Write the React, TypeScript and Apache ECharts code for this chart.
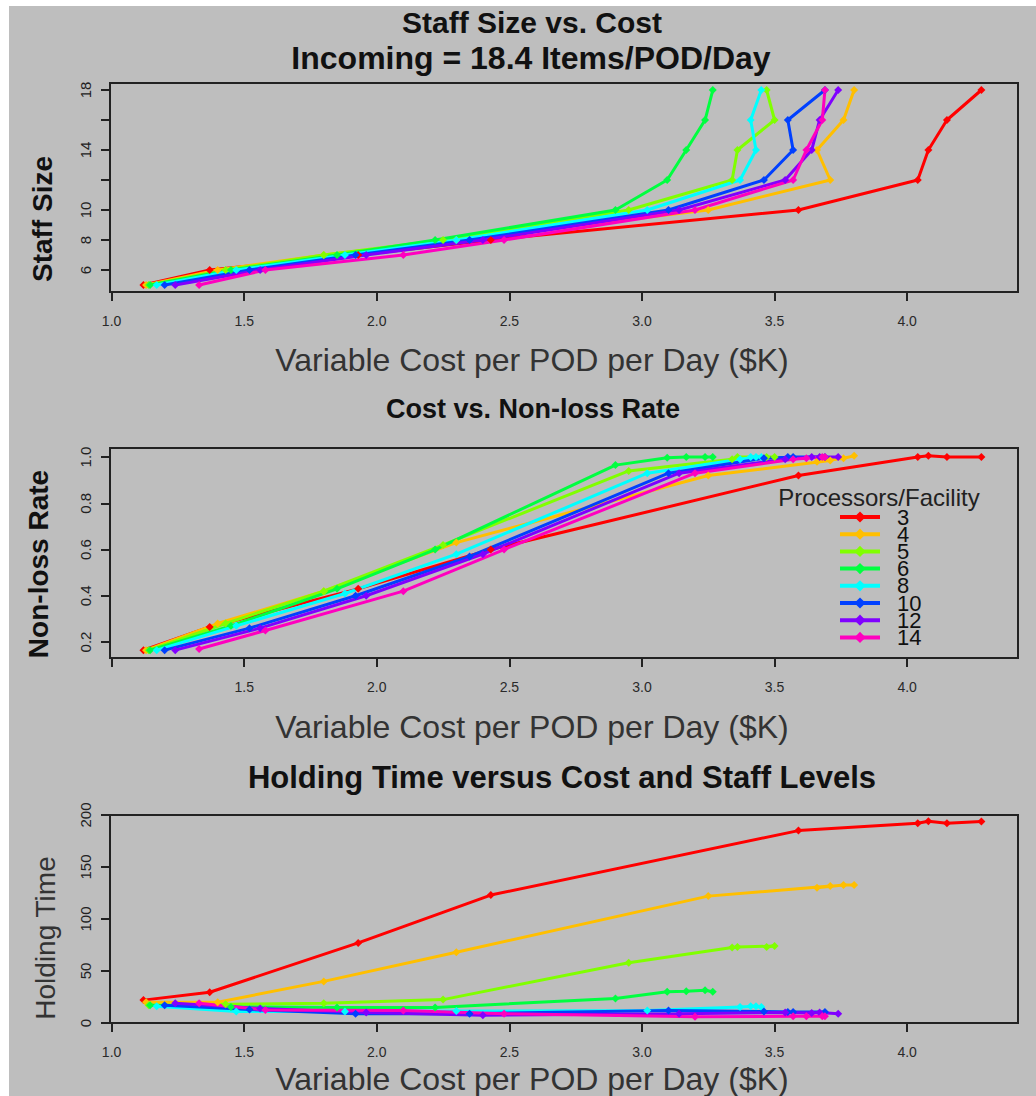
import React, { useEffect, useRef } from "react";
import * as echarts from "echarts";

// ---------- data ----------
const processors = ["3", "4", "5", "6", "8", "10", "12", "14"];
const staffLevels = [5, 6, 7, 8, 10, 12, 14, 16, 18];

const cost3 = [1.12, 1.37, 1.93, 2.43, 3.59, 4.04, 4.08, 4.15, 4.28];
const cost4 = [1.13, 1.4, 1.8, 2.3, 3.25, 3.71, 3.66, 3.76, 3.8];
const cost5 = [1.14, 1.43, 1.8, 2.25, 2.95, 3.34, 3.36, 3.5, 3.47];
const cost6 = [1.145, 1.45, 1.85, 2.22, 2.9, 3.095, 3.167, 3.238, 3.267];
const cost8 = [1.17, 1.47, 1.88, 2.3, 3.02, 3.37, 3.43, 3.41, 3.45];
const cost10 = [1.2, 1.52, 1.92, 2.35, 3.1, 3.46, 3.57, 3.55, 3.69];
const cost12 = [1.24, 1.56, 1.96, 2.4, 3.14, 3.54, 3.64, 3.67, 3.74];
const cost14 = [1.33, 1.58, 2.1, 2.48, 3.2, 3.57, 3.62, 3.68, 3.69];

const nonLoss3 = [0.165, 0.265, 0.43, 0.6, 0.92, 1.0, 1.005, 1.0, 1.0];
const nonLoss4 = [0.165, 0.28, 0.42, 0.63, 0.92, 0.985, 0.98, 0.995, 1.005];
const nonLoss5 = [0.165, 0.28, 0.42, 0.62, 0.94, 0.99, 1.0, 1.0, 1.0];
const nonLoss6 = [0.165, 0.27, 0.43, 0.6, 0.965, 0.997, 1.0, 1.0, 1.0];
const nonLoss8 = [0.165, 0.27, 0.41, 0.58, 0.93, 0.99, 1.0, 1.0, 1.0];
const nonLoss10 = [0.165, 0.26, 0.4, 0.57, 0.93, 0.995, 1.0, 1.0, 1.0];
const nonLoss12 = [0.165, 0.26, 0.4, 0.58, 0.93, 0.99, 1.0, 1.0, 1.0];
const nonLoss14 = [0.17, 0.25, 0.42, 0.6, 0.93, 0.99, 0.995, 1.0, 1.0];

const hold3 = [22, 29.6, 77, 123, 185, 192, 194, 192, 193.7];
const hold4 = [20, 20, 40, 68, 122, 131.7, 130, 132.6, 132.6];
const hold5 = [17, 18, 19, 22.5, 58, 72.5, 73, 74, 73];
const hold6 = [17, 15.5, 15, 15, 23.5, 30, 30.5, 31.5, 30];
const hold8 = [16, 11, 11, 11.5, 12, 15.5, 16, 16, 15.5];
const hold10 = [17, 13, 9, 9, 12, 11, 10.5, 10.5, 10.5];
const hold12 = [19, 14, 10, 7.5, 9, 10, 9.5, 10, 9];
const hold14 = [19, 12.5, 12, 9, 6, 6.5, 6.5, 6.5, 6.5];

const xTicks = [1.0, 1.5, 2.0, 2.5, 3.0, 3.5, 4.0];
const xLabelsMid = [1.5, 2.0, 2.5, 3.0, 3.5, 4.0];
const staffTicks = [6, 8, 10, 12, 14, 16, 18];
const staffLabels = [6, 8, 10, 14, 18];
const rateTicks = [0.2, 0.4, 0.6, 0.8, 1.0];
const holdTicks = [0, 50, 100, 150, 200];

const palette = ["#FF0000", "#FFBF00", "#80FF00", "#00FF40", "#00FFFF", "#0040FF", "#8000FF", "#FF00BF"];

const costs = [cost3, cost4, cost5, cost6, cost8, cost10, cost12, cost14];
const nonLoss = [nonLoss3, nonLoss4, nonLoss5, nonLoss6, nonLoss8, nonLoss10, nonLoss12, nonLoss14];
const holds = [hold3, hold4, hold5, hold6, hold8, hold10, hold12, hold14];

// ---------- layout (page coords minus offset) ----------
const OX = 9;
const OY = 6;
const FONT = "'Liberation Sans', Arial, sans-serif";
const INK = "#222";

const gridsPage = [
  { top: 83, bottom: 292 },
  { top: 448, bottom: 658 },
  { top: 815, bottom: 1023 },
];

function buildOption() {
  const grid = gridsPage.map((g) => ({
    left: 110 - OX,
    top: g.top - OY,
    width: 908,
    height: g.bottom - g.top,
    show: true,
    borderColor: INK,
    borderWidth: 2,
    backgroundColor: "transparent",
    containLabel: false,
  }));

  const xAxis = [0, 1, 2].map((i) => ({
    type: "value",
    gridIndex: i,
    min: 0.994,
    max: 4.418,
    axisLine: { show: false },
    splitLine: { show: false },
    axisTick: { show: true, length: 9, lineStyle: { color: INK, width: 2 }, customValues: xTicks },
    axisLabel: {
      customValues: i === 1 ? xLabelsMid : xTicks,
      formatter: (v: number) => v.toFixed(1),
      fontSize: 14,
      fontFamily: FONT,
      color: "#2a2a2a",
      margin: 22,
    },
  }));

  const yCommon = {
    type: "value",
    axisLine: { show: false },
    splitLine: { show: false },
  };
  const yTick = (vals: number[]) => ({ show: true, length: 9, lineStyle: { color: INK, width: 2 }, customValues: vals });
  const yLab = (vals: number[], fmt: (v: number) => string) => ({
    customValues: vals,
    formatter: fmt,
    rotate: 90,
    fontSize: 15,
    fontFamily: FONT,
    color: INK,
    margin: 17,
  });
  const yAxis = [
    { ...yCommon, gridIndex: 0, min: 4.533, max: 18.467, axisTick: yTick(staffTicks), axisLabel: yLab(staffLabels, (v) => String(v)) },
    { ...yCommon, gridIndex: 1, min: 0.131, max: 1.039, axisTick: yTick(rateTicks), axisLabel: yLab(rateTicks, (v) => v.toFixed(1)) },
    { ...yCommon, gridIndex: 2, min: 0, max: 200, axisTick: yTick(holdTicks), axisLabel: yLab(holdTicks, (v) => String(v)) },
  ];

  const series: any[] = [];
  for (let g = 0; g < 3; g++) {
    processors.forEach((p, j) => {
      const ys = g === 0 ? staffLevels : g === 1 ? nonLoss[j] : holds[j];
      series.push({
        type: "line",
        name: p,
        xAxisIndex: g,
        yAxisIndex: g,
        data: costs[j].map((c, k) => [c, ys[k]]),
        color: palette[j],
        lineStyle: { width: 3, color: palette[j] },
        itemStyle: { color: palette[j] },
        symbol: "diamond",
        symbolSize: 8,
        showSymbol: true,
        emphasis: { disabled: true },
      });
    });
  }

  const txt = (text: string, x: number, y: number, size: number, bold: boolean, rot = 0, color = "#111") => ({
    type: "text",
    x: x - OX,
    y: y - OY,
    rotation: rot,
    silent: true,
    style: {
      text,
      fill: color,
      font: `${bold ? "bold " : ""}${size}px ${FONT}`,
      align: "center",
      verticalAlign: "middle",
    },
  });

  const graphic = [
    txt("Staff Size vs. Cost", 532, 22, 30, true),
    txt("Incoming = 18.4 Items/POD/Day", 531, 58, 32, true),
    txt("Cost vs. Non-loss Rate", 533, 409, 27, true),
    txt("Holding Time versus Cost and Staff Levels", 562, 777, 31, true),
    txt("Variable Cost per POD per Day ($K)", 532, 360, 32, false, 0, "#333"),
    txt("Variable Cost per POD per Day ($K)", 532, 727, 32, false, 0, "#333"),
    txt("Variable Cost per POD per Day ($K)", 532, 1079, 32, false, 0, "#333"),
    txt("Staff Size", 42, 219, 28, true, Math.PI / 2),
    txt("Non-loss Rate", 38, 564, 28, true, Math.PI / 2),
    txt("Holding Time", 45, 938, 28, false, Math.PI / 2, "#333"),
    txt("Processors/Facility", 879, 497, 24, false, 0, "#222"),
  ];

  return {
    animation: false,
    backgroundColor: "#bebebe",
    grid,
    xAxis,
    yAxis,
    series,
    graphic,
    legend: {
      orient: "vertical",
      left: 833 - OX,
      top: 516 - OY - 15,
      itemWidth: 40,
      itemHeight: 14,
      itemGap: -4.8,
      selectedMode: false,
      data: processors,
      lineStyle: { width: 4 },
      textStyle: { fontSize: 22, lineHeight: 14, color: "#111", fontFamily: FONT, padding: [0, 0, 0, 12] },
    },
  };
}

export default function App() {
  const ref = useRef<HTMLDivElement>(null);
  useEffect(() => {
    if (!ref.current) return;
    const chart = echarts.init(ref.current, null, { renderer: "svg" });
    chart.setOption(buildOption() as any);
    return () => chart.dispose();
  }, []);
  return (
    <div style={{ position: "absolute", left: 0, top: 0, width: 1036, height: 1096, background: "#fff", overflow: "hidden" }}>
      <div
        ref={ref}
        style={{ position: "absolute", left: OX, top: OY, width: 1036 - OX, height: 1096 - OY, background: "#bebebe" }}
      />
    </div>
  );
}
